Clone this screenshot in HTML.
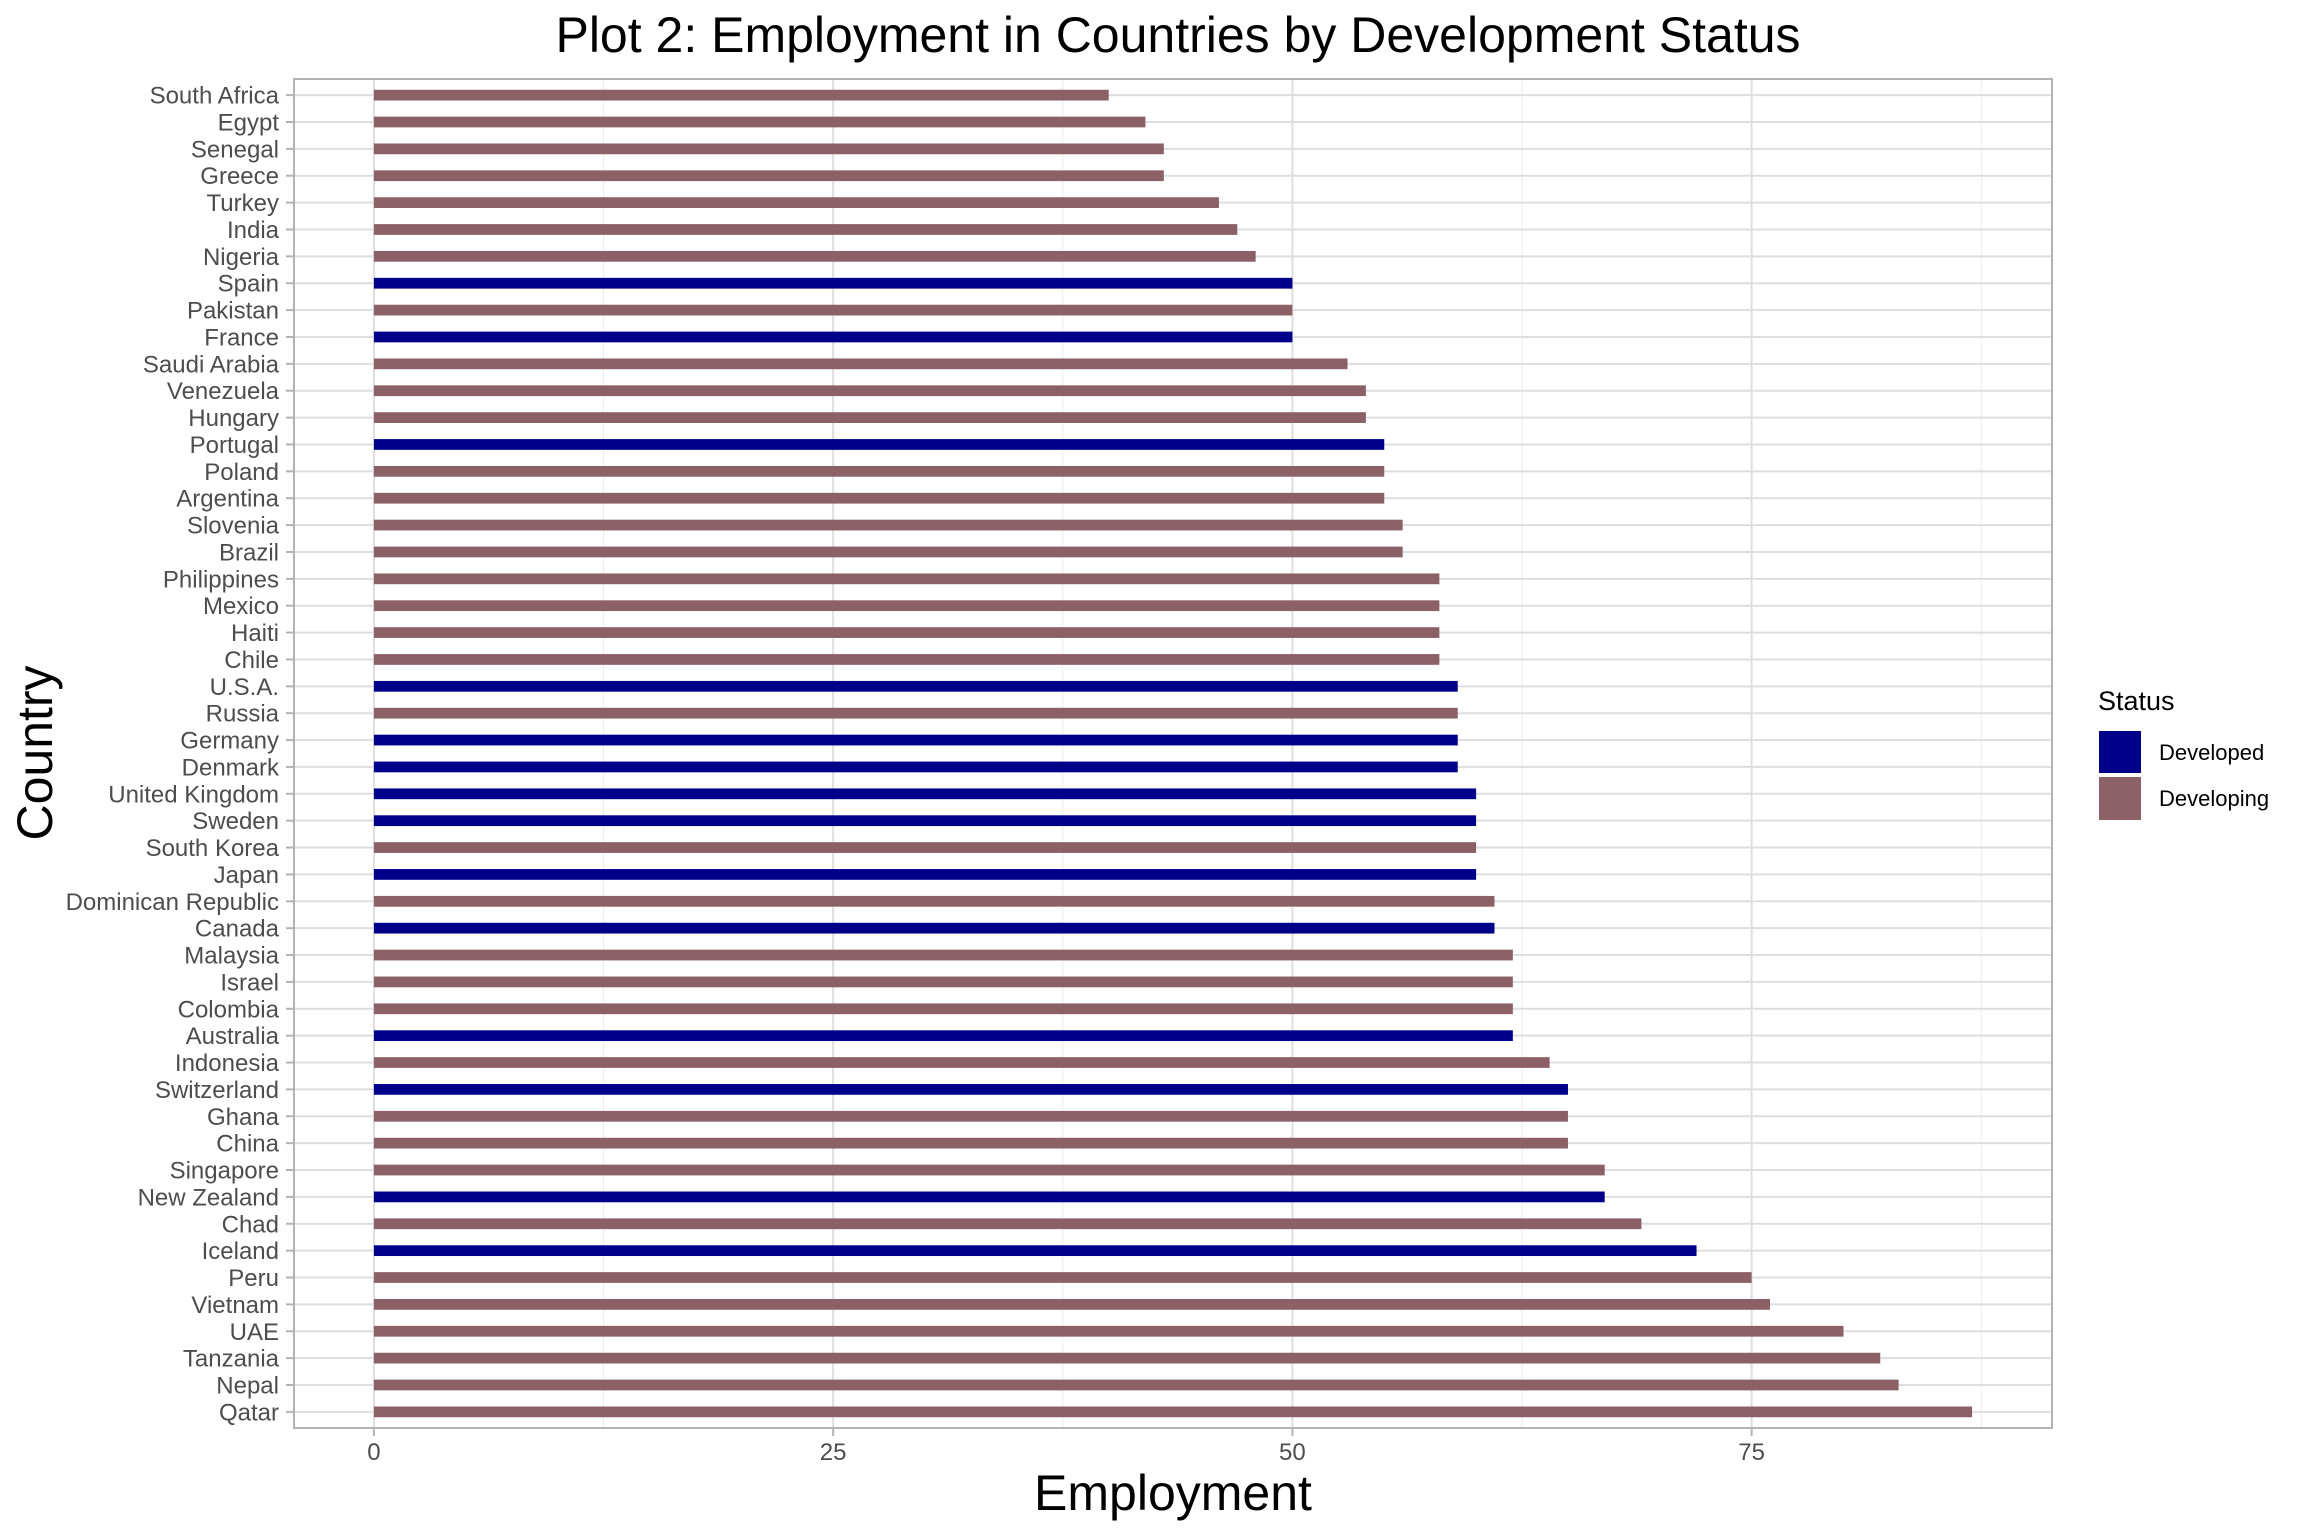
<!DOCTYPE html>
<html><head><meta charset="utf-8"><style>
html,body{margin:0;padding:0;background:#fff;}
svg{display:block;font-family:"Liberation Sans",Arial,sans-serif;}
</style></head><body>
<svg id="chart" width="2304" height="1536" viewBox="0 0 2304 1536" xmlns="http://www.w3.org/2000/svg">
<rect x="0" y="0" width="2304" height="1536" fill="#fff"/>
<text x="1178" y="52" font-size="50" text-anchor="middle" fill="#000">Plot 2: Employment in Countries by Development Status</text>
<g id="grid"></g>
<g id="bars"></g>
<rect x="294" y="79" width="1758" height="1349" fill="none" stroke="#b3b3b3" stroke-width="2"/>
<g id="axes"></g>
<text x="1173" y="1510" font-size="50" text-anchor="middle" fill="#000">Employment</text>
<text transform="translate(52,753) rotate(-90)" font-size="50" text-anchor="middle" fill="#000">Country</text>
<g>
<text x="2098" y="710" font-size="27" fill="#000">Status</text>
<g>
<rect x="2099" y="731" width="42" height="42" fill="#00008b"/>
<text x="2159" y="760" font-size="22" fill="#000">Developed</text>
</g>
<g>
<rect x="2099" y="777" width="42" height="43" fill="#8b6067"/>
<text x="2159" y="806" font-size="22" fill="#000">Developing</text>
</g>
</g>
</svg>
<script>
const countries = ["South Africa","Egypt","Senegal","Greece","Turkey","India","Nigeria","Spain","Pakistan","France","Saudi Arabia","Venezuela","Hungary","Portugal","Poland","Argentina","Slovenia","Brazil","Philippines","Mexico","Haiti","Chile","U.S.A.","Russia","Germany","Denmark","United Kingdom","Sweden","South Korea","Japan","Dominican Republic","Canada","Malaysia","Israel","Colombia","Australia","Indonesia","Switzerland","Ghana","China","Singapore","New Zealand","Chad","Iceland","Peru","Vietnam","UAE","Tanzania","Nepal","Qatar"];
const employment = [40,42,43,43,46,47,48,50,50,50,53,54,54,55,55,55,56,56,58,58,58,58,59,59,59,59,60,60,60,60,61,61,62,62,62,62,64,65,65,65,67,67,69,72,75,76,80,82,83,87];
const status = ["Developing","Developing","Developing","Developing","Developing","Developing","Developing","Developed","Developing","Developed","Developing","Developing","Developing","Developed","Developing","Developing","Developing","Developing","Developing","Developing","Developing","Developing","Developed","Developing","Developed","Developed","Developed","Developed","Developing","Developed","Developing","Developed","Developing","Developing","Developing","Developed","Developing","Developed","Developing","Developing","Developing","Developed","Developing","Developed","Developing","Developing","Developing","Developing","Developing","Developing"];
const xTicks = [0,25,50,75];
const xMinor = [12.5,37.5,62.5,87.5];

const NS = "http://www.w3.org/2000/svg";
const PL=294, PR=2052, PT=79, PB=1428;
const maxV = Math.max(...employment);
const xMin = -maxV*0.05, xMax = maxV*1.05;
function xs(v){ return PL + (v - xMin)/(xMax - xMin)*(PR-PL); }
const n = countries.length;
function ys(i){ return PT + (i + 0.6)/(n + 0.2)*(PB-PT); }
const band = (PB-PT)/(n+0.2);
const colors = {Developed:"#00008b", Developing:"#8b6067"};
function mk(tag, attrs, parent){ const e=document.createElementNS(NS,tag); for(const k in attrs) e.setAttribute(k,attrs[k]); parent.appendChild(e); return e; }
const grid=document.getElementById('grid'), bars=document.getElementById('bars'), axes=document.getElementById('axes');

xMinor.forEach(v=>{
  const l=mk('line',{x1:xs(v),x2:xs(v),y1:PT,y2:PB,stroke:'#ebebeb','stroke-width':1},grid);
  
  
});
xTicks.forEach(v=>{
  const l=mk('line',{x1:xs(v),x2:xs(v),y1:PT,y2:PB,stroke:'#dedede','stroke-width':2},grid);
  
  
  const t=mk('line',{x1:xs(v),x2:xs(v),y1:PB,y2:PB+8,stroke:'#b3b3b3','stroke-width':2},axes);
  
  
  const tx=mk('text',{x:xs(v),y:PB+32,'font-size':24,'text-anchor':'middle',fill:'#4d4d4d'},axes);
  tx.textContent=String(v);
  
  
});
countries.forEach((c,i)=>{
  const y=ys(i);
  const g=mk('line',{x1:PL,x2:PR,y1:y,y2:y,stroke:'#dedede','stroke-width':2},grid);
  
  
  const h=band*0.4;
  const r=mk('rect',{x:xs(0),y:y-h/2,width:xs(employment[i])-xs(0),height:h,fill:colors[status[i]]},bars);
  
  
  const t=mk('line',{x1:PL-8,x2:PL,y1:y,y2:y,stroke:'#b3b3b3','stroke-width':2},axes);
  
  
  const tx=mk('text',{x:PL-15,y:y+8.5,'font-size':24,'text-anchor':'end',fill:'#4d4d4d'},axes);
  tx.textContent=c;
  
  
});
</script>
</body></html>
